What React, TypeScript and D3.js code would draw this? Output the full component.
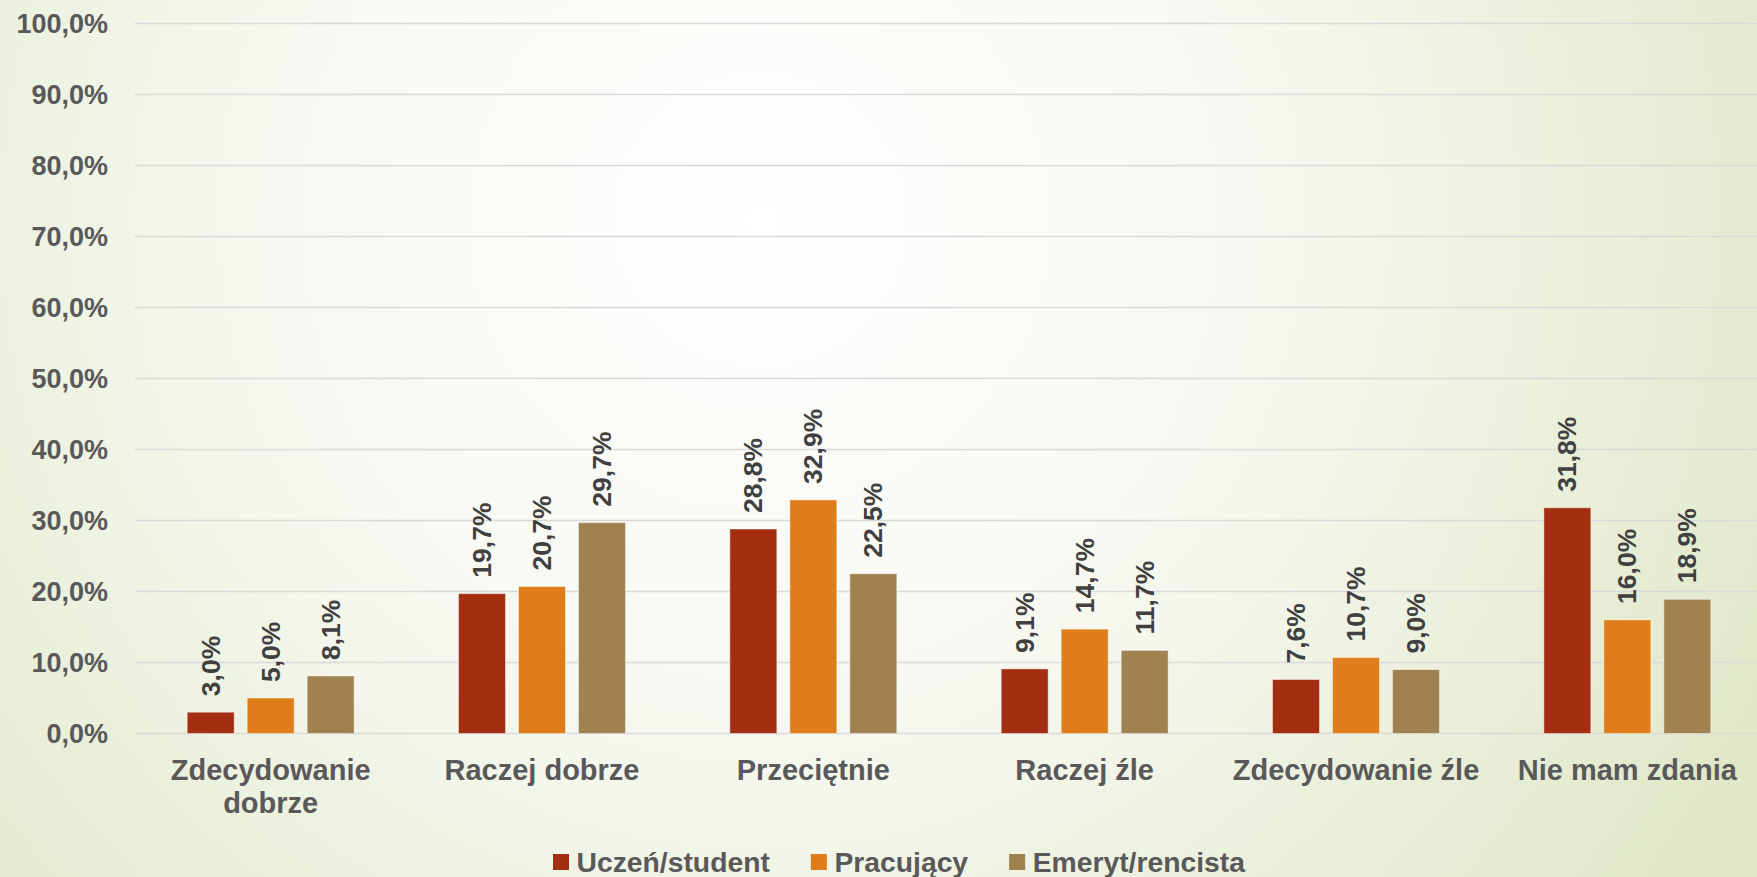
import { useEffect, useRef } from "react";
import * as d3 from "d3";

const categories = [
  ["Zdecydowanie", "dobrze"],
  ["Raczej dobrze"],
  ["Przeciętnie"],
  ["Raczej źle"],
  ["Zdecydowanie źle"],
  ["Nie mam zdania"],
];
const seriesNames = ["Uczeń/student", "Pracujący", "Emeryt/rencista"];
const uczen = [3.0, 19.7, 28.8, 9.1, 7.6, 31.8];
const pracujacy = [5.0, 20.7, 32.9, 14.7, 10.7, 16.0];
const emeryt = [8.1, 29.7, 22.5, 11.7, 9.0, 18.9];
const yTicks = [0, 10, 20, 30, 40, 50, 60, 70, 80, 90, 100];
const colors = ["#a32e11", "#de7d1a", "#9f8250"];

const W = 1757;
const H = 877;
const FONT = "'Liberation Sans', Arial, sans-serif";

function drawChart(svgEl: SVGSVGElement) {
  const svg = d3.select(svgEl);
  svg.selectAll("*").remove();

  const series = [uczen, pracujacy, emeryt];
  const fmt = (v: number) => v.toFixed(1).replace(".", ",") + "%";

  // background
  const defs = svg.append("defs");
  const grad = defs
    .append("radialGradient")
    .attr("id", "bg")
    .attr("gradientUnits", "userSpaceOnUse")
    .attr("cx", 760)
    .attr("cy", 220)
    .attr("r", 1150);
  grad.append("stop").attr("offset", 0).attr("stop-color", "#ffffff");
  grad.append("stop").attr("offset", 0.45).attr("stop-color", "#f6f8f0");
  grad.append("stop").attr("offset", 1).attr("stop-color", "#dfe7c6");
  svg.append("rect").attr("width", W).attr("height", H).attr("fill", "url(#bg)");

  const y = d3.scaleLinear().domain([0, 100]).range([733.5, 23.5]);
  const x0 = d3
    .scaleBand<number>()
    .domain(categories.map((_, i) => i))
    .range([135, 1763]);
  const x1 = d3
    .scaleBand<number>()
    .domain([0, 1, 2])
    .range([0, x0.bandwidth()])
    .paddingInner(0.2167)
    .paddingOuter(0.87);

  // gridlines
  svg
    .append("g")
    .selectAll("line")
    .data(yTicks)
    .join("line")
    .attr("x1", 135)
    .attr("x2", W)
    .attr("y1", (d) => y(d))
    .attr("y2", (d) => y(d))
    .attr("stroke", "#d9d9d9")
    .attr("stroke-width", 1.5);

  // y labels
  svg
    .append("g")
    .attr("font-family", FONT)
    .attr("font-weight", "bold")
    .attr("font-size", 27)
    .attr("fill", "#595959")
    .attr("text-anchor", "end")
    .selectAll("text")
    .data(yTicks)
    .join("text")
    .attr("x", 108)
    .attr("y", (d) => y(d) + 9.5)
    .text((d) => fmt(d));

  // bars
  const groups = svg
    .append("g")
    .selectAll("g")
    .data(categories.map((_, i) => i))
    .join("g")
    .attr("transform", (i) => `translate(${x0(i)},0)`);

  groups
    .selectAll("rect")
    .data((i) => series.map((s, k) => ({ k, v: s[i] })))
    .join("rect")
    .attr("x", (d) => x1(d.k)!)
    .attr("y", (d) => y(d.v))
    .attr("width", x1.bandwidth())
    .attr("height", (d) => y(0) - y(d.v))
    .attr("fill", (d) => colors[d.k])
    .attr("stroke", "rgba(255,255,255,0.45)")
    .attr("stroke-width", 1);

  // value labels
  groups
    .selectAll("text")
    .data((i) => series.map((s, k) => ({ k, v: s[i] })))
    .join("text")
    .attr("font-family", FONT)
    .attr("font-weight", "bold")
    .attr("font-size", 26.5)
    .attr("fill", "#404040")
    .attr("dominant-baseline", "central")
    .attr("transform", (d) => {
      const cx = x1(d.k)! + x1.bandwidth() / 2;
      const cy = y(d.v) - 16;
      return `translate(${cx},${cy}) rotate(-90)`;
    })
    .text((d) => fmt(d.v));

  // category labels
  const cat = svg
    .append("g")
    .attr("font-family", FONT)
    .attr("font-weight", "bold")
    .attr("font-size", 29)
    .attr("fill", "#595959")
    .attr("text-anchor", "middle");
  categories.forEach((lines, i) => {
    lines.forEach((ln, j) => {
      cat
        .append("text")
        .attr("x", x0(i)! + x0.bandwidth() / 2)
        .attr("y", 780 + j * 33)
        .text(ln);
    });
  });

  // legend
  const legend = svg.append("g").attr("transform", "translate(553,0)");
  let lx = 0;
  seriesNames.forEach((name, k) => {
    legend
      .append("rect")
      .attr("x", lx)
      .attr("y", 854)
      .attr("width", 16)
      .attr("height", 16)
      .attr("fill", colors[k]);
    const t = legend
      .append("text")
      .attr("font-family", FONT)
      .attr("font-weight", "bold")
      .attr("font-size", 28.3)
      .attr("fill", "#595959")
      .attr("x", lx + 23.5)
      .attr("y", 871.5)
      .text(name);
    const w = (t.node() as SVGTextElement).getComputedTextLength();
    lx += 23.5 + w + 41;
  });
}

export default function App() {
  const ref = useRef<SVGSVGElement>(null);
  useEffect(() => {
    document.body.style.margin = "0";
    if (ref.current) drawChart(ref.current);
  }, []);
  return (
    <svg
      ref={ref}
      width={W}
      height={H}
      style={{ display: "block" }}
    ></svg>
  );
}
